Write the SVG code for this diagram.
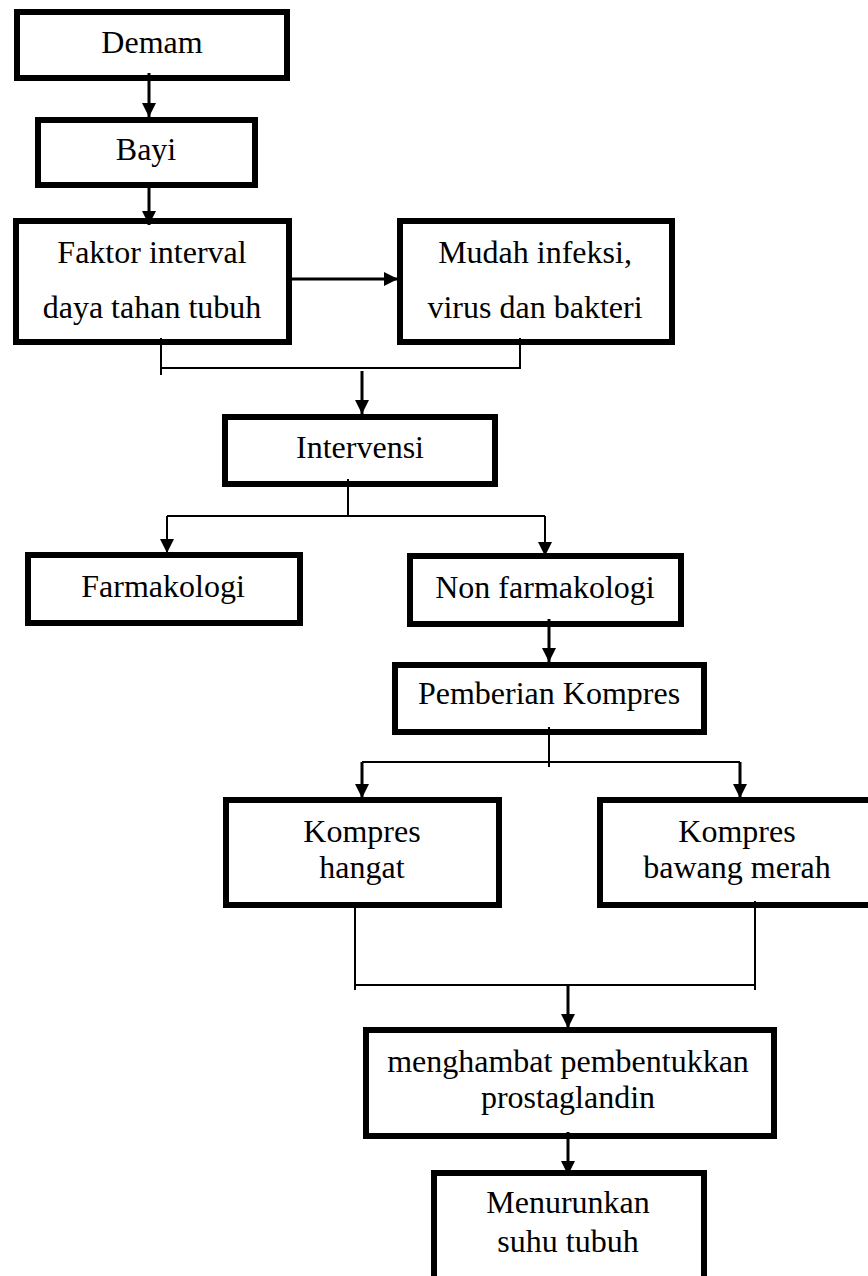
<svg xmlns="http://www.w3.org/2000/svg" width="868" height="1276" viewBox="0 0 868 1276">
<style>
.box{fill:#fff;stroke:#000;stroke-width:6}
.t{font-family:"Liberation Serif","Times New Roman",serif;font-size:32px;fill:#000;text-anchor:middle}
.a{fill:none;stroke:#000;stroke-width:3}
.c{fill:none;stroke:#000;stroke-width:2}
</style>
<defs>
<marker id="ah" markerUnits="userSpaceOnUse" markerWidth="14" markerHeight="14" refX="14" refY="7" orient="auto">
<path d="M0,0 L14,7 L0,14 Z" fill="#000"/>
</marker>
</defs>
<rect width="868" height="1276" fill="#fff"/>
<g id="n-demam"><rect class="box" x="17" y="12" width="270" height="66"/><text class="t" x="152" y="53">Demam</text></g>
<g id="n-bayi"><rect class="box" x="38" y="120" width="217" height="65"/><text class="t" x="146" y="160">Bayi</text></g>
<g id="n-faktor"><rect class="box" x="16" y="221" width="273" height="121"/><text class="t" x="152" y="263">Faktor interval</text><text class="t" x="152" y="318">daya tahan tubuh</text></g>
<g id="n-mudah"><rect class="box" x="400" y="221" width="272" height="121"/><text class="t" x="535" y="263">Mudah infeksi,</text><text class="t" x="535" y="318">virus dan bakteri</text></g>
<g id="n-intervensi"><rect class="box" x="225" y="417" width="270" height="67"/><text class="t" x="360" y="458">Intervensi</text></g>
<g id="n-farmakologi"><rect class="box" x="28" y="555" width="272" height="68"/><text class="t" x="163" y="597">Farmakologi</text></g>
<g id="n-nonfarmakologi"><rect class="box" x="410" y="556" width="271" height="68"/><text class="t" x="545" y="598">Non farmakologi</text></g>
<g id="n-pemberian"><rect class="box" x="395" y="665" width="309" height="67"/><text class="t" x="549" y="704">Pemberian Kompres</text></g>
<g id="n-hangat"><rect class="box" x="226" y="800" width="273" height="105"/><text class="t" x="362" y="842">Kompres</text><text class="t" x="362" y="878">hangat</text></g>
<g id="n-bawang"><rect class="box" x="600" y="800" width="274" height="105"/><text class="t" x="737" y="842">Kompres</text><text class="t" x="737" y="878">bawang merah</text></g>
<g id="n-menghambat"><rect class="box" x="366" y="1030" width="408" height="106"/><text class="t" x="568" y="1072">menghambat pembentukkan</text><text class="t" x="568" y="1108">prostaglandin</text></g>
<g id="n-menurunkan"><rect class="box" x="434" y="1173" width="270" height="120"/><text class="t" x="568" y="1213">Menurunkan</text><text class="t" x="568" y="1252">suhu tubuh</text></g>
<g id="connectors">
<path class="a" d="M149,73 V117" marker-end="url(#ah)"/>
<path class="a" d="M149,182 V225" marker-end="url(#ah)"/>
<path class="a" d="M292,279 H398" marker-end="url(#ah)"/>
<path class="c" d="M161,338 V375 M161,368 H520 V338"/>
<path class="a" d="M362,371 V414" marker-end="url(#ah)"/>
<path class="c" d="M348,479 V516 M167,516 H545"/>
<path class="c" d="M167,516 V553" marker-end="url(#ah)"/>
<path class="c" d="M545,516 V556" marker-end="url(#ah)"/>
<path class="a" d="M549,619 V662" marker-end="url(#ah)"/>
<path class="c" d="M549,727 V767 M362,762 H740"/>
<path class="a" d="M362,762 V798" marker-end="url(#ah)"/>
<path class="a" d="M740,762 V798" marker-end="url(#ah)"/>
<path class="c" d="M355,902 V990 M755,901 V990 M355,985 H755"/>
<path class="a" d="M568,985 V1028" marker-end="url(#ah)"/>
<path class="a" d="M568,1132 V1175" marker-end="url(#ah)"/>
</g>
</svg>
